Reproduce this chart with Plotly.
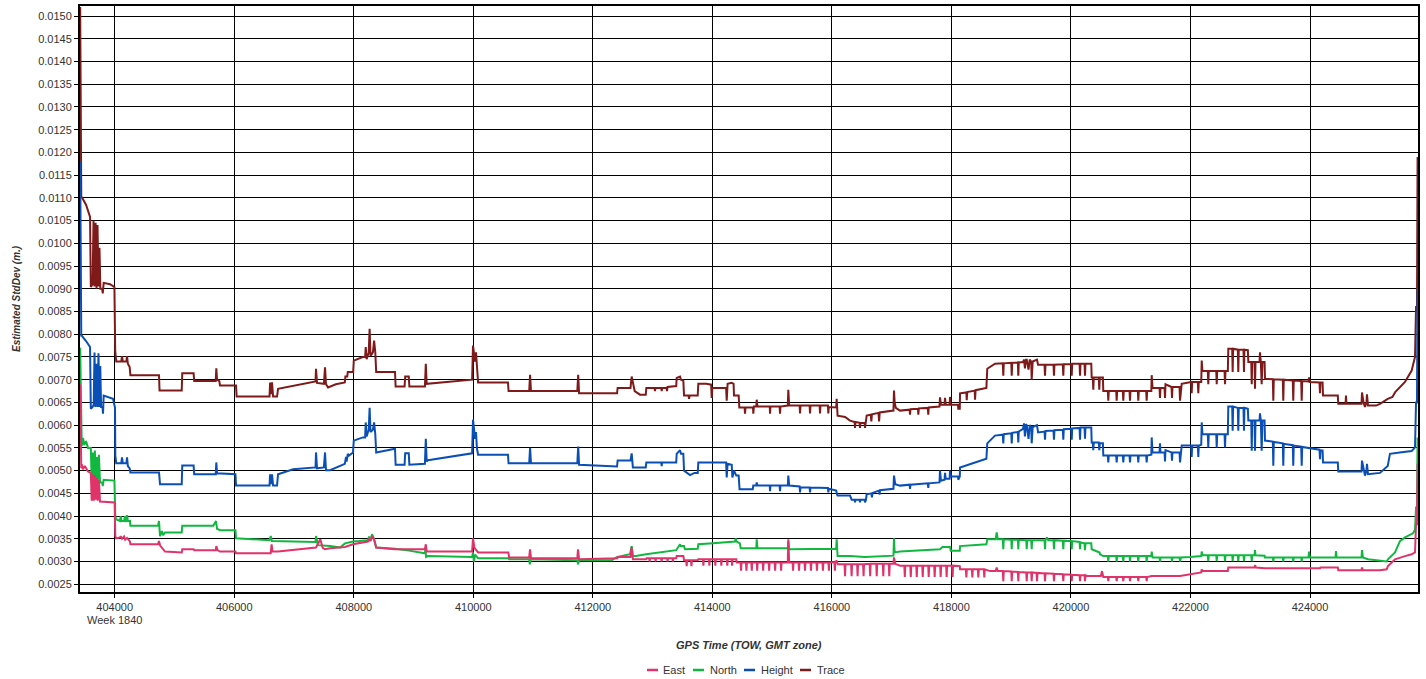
import plotly.graph_objects as go

# ---------------- data (GPS TOW seconds, estimated std dev in metres) ----------------
series_names = ["East", "North", "Height", "Trace"]
series_colors = {"East": "#e0336a", "North": "#10b840", "Height": "#0a4fb5", "Trace": "#7f1a1a"}

x_ticks = [404000, 406000, 408000, 410000, 412000, 414000, 416000, 418000, 420000, 422000, 424000]
y_ticks = [0.0025, 0.0030, 0.0035, 0.0040, 0.0045, 0.0050, 0.0055, 0.0060, 0.0065, 0.0070,
           0.0075, 0.0080, 0.0085, 0.0090, 0.0095, 0.0100, 0.0105, 0.0110, 0.0115, 0.0120,
           0.0125, 0.0130, 0.0135, 0.0140, 0.0145, 0.0150]
week_label = "Week 1840"

trace_pts = [
(403422, 0.01520), (403440, 0.01100), (403448, 0.01102), (403520, 0.01085), (403587, 0.01058),
(403600, 0.00904), (403630, 0.00910), (403645, 0.01050), (403660, 0.00905), (403680, 0.01045),
(403695, 0.00900), (403712, 0.01040), (403728, 0.00905), (403745, 0.00990), (403760, 0.00900),
(403790, 0.00900), (403800, 0.00890), (403815, 0.00913), (403921, 0.00910), (403995, 0.00904),
(404008, 0.00764), (404025, 0.00740), (404110, 0.00740), (404122, 0.00752), (404135, 0.00740),
(404195, 0.00740), (404206, 0.00752), (404220, 0.00735), (404250, 0.00728), (404262, 0.00710),
(404741, 0.00710), (404750, 0.00676), (405121, 0.00676), (405130, 0.00714), (405320, 0.00714),
(405330, 0.00697), (405690, 0.00697), (405700, 0.00725), (405712, 0.00700), (405750, 0.00697),
(405762, 0.00687), (406030, 0.00687), (406040, 0.00663), (406590, 0.00663), (406600, 0.00694),
(406615, 0.00668), (406632, 0.00694), (406650, 0.00663), (406716, 0.00663), (406733, 0.00680),
(407360, 0.00696), (407368, 0.00724), (407385, 0.00693), (407500, 0.00691), (407519, 0.00727),
(407535, 0.00690), (407570, 0.00683), (407700, 0.00690), (407850, 0.00694), (407860, 0.00707),
(407890, 0.00707), (407900, 0.00717), (407990, 0.00717), (408000, 0.00742), (408150, 0.00750),
(408190, 0.00750), (408200, 0.00772), (408215, 0.00745), (408250, 0.00760), (408265, 0.00812),
(408280, 0.00752), (408320, 0.00760), (408340, 0.00786), (408360, 0.00760), (408375, 0.00717),
(408690, 0.00717), (408700, 0.00685), (408850, 0.00685), (408860, 0.00707), (408920, 0.00707),
(408930, 0.00685), (409190, 0.00685), (409205, 0.00735), (409220, 0.00691), (409980, 0.00700),
(409995, 0.00775), (410030, 0.00740), (410045, 0.00760), (410060, 0.00720), (410080, 0.00694),
(410580, 0.00694), (410590, 0.00675), (410935, 0.00675), (410950, 0.00711), (410965, 0.00675),
(411740, 0.00675), (411755, 0.00711), (411770, 0.00670), (412405, 0.00670), (412415, 0.00682),
(412630, 0.00682), (412650, 0.00707), (412700, 0.00675), (412789, 0.00667), (412885, 0.00667),
(412895, 0.00682), (413030, 0.00682), (413040, 0.00675), (413050, 0.00682), (413145, 0.00682),
(413152, 0.00675), (413160, 0.00682), (413235, 0.00682), (413241, 0.00675), (413250, 0.00684),
(413395, 0.00686), (413403, 0.00704), (413459, 0.00707), (413475, 0.00700), (413514, 0.00698),
(413526, 0.00665), (413600, 0.00665), (413610, 0.00658), (413620, 0.00665), (413755, 0.00665),
(413765, 0.00691), (413900, 0.00691), (413980, 0.00689), (413989, 0.00660), (414000, 0.00682),
(414230, 0.00682), (414240, 0.00654), (414255, 0.00691), (414324, 0.00693), (414355, 0.00691),
(414362, 0.00665), (414440, 0.00665), (414451, 0.00639), (414540, 0.00639), (414546, 0.00625),
(414555, 0.00639), (414680, 0.00639), (414685, 0.00625), (414695, 0.00641), (414735, 0.00641),
(414742, 0.00656), (414755, 0.00641), (414960, 0.00641), (414965, 0.00625), (414972, 0.00641),
(415125, 0.00641), (415132, 0.00625), (415140, 0.00641), (415262, 0.00643), (415271, 0.00678),
(415285, 0.00643), (415460, 0.00643), (415467, 0.00626), (415475, 0.00643), (415627, 0.00643),
(415634, 0.00626), (415642, 0.00643), (415795, 0.00643), (415801, 0.00626), (415809, 0.00643),
(415934, 0.00643), (415940, 0.00626), (415948, 0.00640), (416072, 0.00639), (416080, 0.00658),
(416095, 0.00621), (416220, 0.00618), (416303, 0.00610), (416380, 0.00607), (416387, 0.00594),
(416395, 0.00607), (416463, 0.00605), (416470, 0.00594), (416478, 0.00605), (416547, 0.00605),
(416554, 0.00594), (416570, 0.00605), (416582, 0.00621), (416650, 0.00623), (416660, 0.00608),
(416670, 0.00624), (416780, 0.00627), (416790, 0.00608), (416800, 0.00628), (417030, 0.00632),
(417039, 0.00676), (417050, 0.00650), (417070, 0.00638), (417140, 0.00632), (417300, 0.00634),
(417307, 0.00623), (417315, 0.00635), (417440, 0.00636), (417446, 0.00623), (417455, 0.00637),
(417605, 0.00638), (417613, 0.00623), (417620, 0.00639), (417800, 0.00641), (417809, 0.00661),
(417825, 0.00645), (417885, 0.00645), (417893, 0.00660), (417905, 0.00645), (417970, 0.00645),
(417976, 0.00662), (417990, 0.00645), (418110, 0.00645), (418115, 0.00636), (418140, 0.00636),
(418144, 0.00670), (418250, 0.00672), (418256, 0.00655), (418265, 0.00673), (418390, 0.00676),
(418395, 0.00656), (418405, 0.00677), (418585, 0.00682), (418600, 0.00724), (418646, 0.00728),
(418729, 0.00735), (418860, 0.00736), (418868, 0.00709), (418876, 0.00736), (419002, 0.00737),
(419009, 0.00709), (419017, 0.00737), (419112, 0.00738), (419119, 0.00709), (419127, 0.00738),
(419198, 0.00739), (419215, 0.00744), (419230, 0.00725), (419245, 0.00744), (419260, 0.00744),
(419290, 0.00722), (419310, 0.00744), (419335, 0.00740), (419343, 0.00700), (419360, 0.00740),
(419432, 0.00744), (419450, 0.00733), (419558, 0.00733), (419566, 0.00709), (419574, 0.00733),
(419708, 0.00733), (419716, 0.00709), (419724, 0.00733), (419864, 0.00734), (419872, 0.00709),
(419880, 0.00734), (420005, 0.00734), (420013, 0.00709), (420021, 0.00735), (420144, 0.00735),
(420152, 0.00709), (420160, 0.00735), (420227, 0.00735), (420235, 0.00709), (420243, 0.00735),
(420340, 0.00735), (420347, 0.00705), (420366, 0.00705), (420374, 0.00678), (420382, 0.00705),
(420466, 0.00705), (420474, 0.00678), (420482, 0.00705), (420535, 0.00705), (420541, 0.00675),
(420617, 0.00675), (420625, 0.00654), (420633, 0.00675), (420757, 0.00675), (420765, 0.00654),
(420773, 0.00675), (420868, 0.00675), (420876, 0.00654), (420884, 0.00675), (420980, 0.00675),
(420988, 0.00654), (420996, 0.00675), (421119, 0.00675), (421127, 0.00654), (421135, 0.00675),
(421259, 0.00675), (421267, 0.00654), (421275, 0.00675), (421345, 0.00675), (421351, 0.00710),
(421365, 0.00682), (421482, 0.00682), (421490, 0.00660), (421498, 0.00682), (421566, 0.00682),
(421574, 0.00660), (421582, 0.00690), (421683, 0.00684), (421691, 0.00660), (421699, 0.00684),
(421817, 0.00684), (421825, 0.00654), (421840, 0.00684), (421853, 0.00691), (422012, 0.00695),
(422020, 0.00670), (422028, 0.00695), (422123, 0.00695), (422131, 0.00670), (422139, 0.00695),
(422180, 0.00695), (422188, 0.00742), (422200, 0.00719), (422290, 0.00719), (422298, 0.00690),
(422306, 0.00719), (422431, 0.00719), (422439, 0.00690), (422447, 0.00719), (422570, 0.00719),
(422578, 0.00690), (422586, 0.00719), (422625, 0.00719), (422633, 0.00768), (422698, 0.00768),
(422706, 0.00717), (422714, 0.00768), (422792, 0.00766), (422800, 0.00717), (422808, 0.00766),
(422887, 0.00766), (422895, 0.00717), (422903, 0.00766), (422960, 0.00765), (422968, 0.00739),
(423017, 0.00739), (423025, 0.00690), (423033, 0.00739), (423072, 0.00739), (423080, 0.00680),
(423088, 0.00739), (423155, 0.00739), (423163, 0.00760), (423177, 0.00739), (423191, 0.00690),
(423205, 0.00739), (423240, 0.00739), (423247, 0.00702), (423378, 0.00701), (423386, 0.00654),
(423394, 0.00701), (423545, 0.00700), (423553, 0.00654), (423561, 0.00700), (423712, 0.00698),
(423720, 0.00654), (423728, 0.00698), (423853, 0.00697), (423861, 0.00654), (423869, 0.00697),
(423975, 0.00696), (423983, 0.00705), (423995, 0.00695), (424159, 0.00694), (424167, 0.00670),
(424175, 0.00694), (424210, 0.00694), (424218, 0.00665), (424465, 0.00665), (424473, 0.00647),
(424595, 0.00647), (424602, 0.00665), (424610, 0.00647), (424862, 0.00647), (424870, 0.00672),
(424895, 0.00650), (424920, 0.00640), (424945, 0.00650), (424953, 0.00668), (424970, 0.00643),
(425104, 0.00643), (425171, 0.00647), (425300, 0.00658), (425338, 0.00660), (425380, 0.00662),
(425422, 0.00672), (425505, 0.00684), (425589, 0.00695), (425701, 0.00720), (425757, 0.00750),
(425774, 0.00860), (425790, 0.00860), (425800, 0.01190), (425804, 0.01080),
]

height_pts = [
(403422, 0.01180), (403440, 0.00795), (403448, 0.00797), (403520, 0.00785), (403587, 0.00772),
(403600, 0.00636), (403630, 0.00640), (403648, 0.00645), (403662, 0.00760), (403676, 0.00640),
(403696, 0.00735), (403712, 0.00640), (403728, 0.00758), (403743, 0.00640), (403758, 0.00730),
(403772, 0.00640), (403795, 0.00640), (403804, 0.00625), (403815, 0.00665), (403971, 0.00658),
(403995, 0.00640), (404005, 0.00638), (404010, 0.00533), (404025, 0.00516), (404110, 0.00516),
(404122, 0.00529), (404135, 0.00516), (404195, 0.00516), (404206, 0.00529), (404220, 0.00510),
(404250, 0.00505), (404262, 0.00496), (404741, 0.00496), (404758, 0.00470), (405121, 0.00470),
(405130, 0.00511), (405320, 0.00511), (405330, 0.00492), (405690, 0.00492), (405700, 0.00518),
(405712, 0.00494), (406020, 0.00492), (406030, 0.00467), (406590, 0.00467), (406600, 0.00492),
(406615, 0.00470), (406632, 0.00492), (406650, 0.00467), (406716, 0.00467), (406733, 0.00492),
(406984, 0.00503), (407360, 0.00507), (407368, 0.00540), (407385, 0.00505), (407500, 0.00507),
(407519, 0.00540), (407535, 0.00501), (407603, 0.00501), (407850, 0.00515), (407870, 0.00530),
(407880, 0.00520), (407900, 0.00537), (407920, 0.00533), (407987, 0.00540), (408000, 0.00566),
(408150, 0.00573), (408190, 0.00573), (408200, 0.00606), (408215, 0.00575), (408250, 0.00590),
(408265, 0.00638), (408280, 0.00585), (408320, 0.00590), (408340, 0.00606), (408360, 0.00580),
(408375, 0.00540), (408690, 0.00548), (408700, 0.00513), (408850, 0.00513), (408860, 0.00538),
(408920, 0.00538), (408930, 0.00513), (409190, 0.00515), (409205, 0.00570), (409220, 0.00520),
(409242, 0.00523), (409980, 0.00538), (409995, 0.00612), (410030, 0.00570), (410045, 0.00585),
(410060, 0.00550), (410080, 0.00535), (410580, 0.00535), (410590, 0.00516), (410935, 0.00516),
(410950, 0.00550), (410965, 0.00516), (411740, 0.00516), (411755, 0.00553), (411770, 0.00513),
(412405, 0.00509), (412415, 0.00522), (412630, 0.00522), (412650, 0.00538), (412670, 0.00507),
(412885, 0.00507), (412895, 0.00518), (413145, 0.00518), (413152, 0.00510), (413160, 0.00518),
(413395, 0.00518), (413403, 0.00537), (413459, 0.00545), (413475, 0.00537), (413514, 0.00537),
(413526, 0.00500), (413626, 0.00490), (413700, 0.00495), (413755, 0.00495), (413765, 0.00518),
(414230, 0.00518), (414240, 0.00485), (414255, 0.00515), (414324, 0.00513), (414335, 0.00485),
(414362, 0.00500), (414400, 0.00489), (414440, 0.00489), (414455, 0.00459), (414675, 0.00459),
(414685, 0.00467), (414735, 0.00467), (414742, 0.00474), (414755, 0.00467), (414960, 0.00467),
(414965, 0.00455), (414972, 0.00467), (415125, 0.00467), (415132, 0.00455), (415140, 0.00467),
(415262, 0.00467), (415271, 0.00489), (415285, 0.00467), (415460, 0.00465), (415467, 0.00452),
(415475, 0.00463), (415627, 0.00463), (415634, 0.00452), (415642, 0.00463), (415934, 0.00462),
(415940, 0.00452), (415948, 0.00460), (416072, 0.00456), (416085, 0.00448), (416095, 0.00445),
(416303, 0.00445), (416331, 0.00436), (416380, 0.00436), (416387, 0.00430), (416395, 0.00436),
(416463, 0.00436), (416470, 0.00430), (416478, 0.00436), (416547, 0.00436), (416554, 0.00430),
(416570, 0.00436), (416582, 0.00448), (416660, 0.00450), (416670, 0.00441), (416680, 0.00451),
(416790, 0.00456), (416798, 0.00447), (416805, 0.00457), (417030, 0.00460), (417039, 0.00489),
(417060, 0.00470), (417140, 0.00467), (417300, 0.00469), (417307, 0.00460), (417315, 0.00469),
(417605, 0.00472), (417613, 0.00462), (417620, 0.00472), (417800, 0.00474), (417809, 0.00500),
(417825, 0.00478), (417885, 0.00480), (417893, 0.00495), (417905, 0.00482), (417970, 0.00482),
(417976, 0.00500), (417990, 0.00487), (418110, 0.00487), (418115, 0.00480), (418140, 0.00487),
(418144, 0.00507), (418585, 0.00526), (418600, 0.00560), (418646, 0.00566), (418729, 0.00577),
(418860, 0.00579), (418868, 0.00560), (418876, 0.00580), (419002, 0.00582), (419009, 0.00560),
(419017, 0.00583), (419112, 0.00585), (419119, 0.00562), (419127, 0.00586), (419198, 0.00592),
(419215, 0.00604), (419230, 0.00575), (419245, 0.00602), (419260, 0.00600), (419290, 0.00570),
(419310, 0.00600), (419335, 0.00596), (419343, 0.00560), (419360, 0.00596), (419432, 0.00600),
(419450, 0.00584), (419558, 0.00586), (419566, 0.00568), (419574, 0.00587), (419708, 0.00588),
(419716, 0.00568), (419724, 0.00589), (419864, 0.00590), (419872, 0.00568), (419880, 0.00591),
(420005, 0.00592), (420013, 0.00568), (420021, 0.00593), (420144, 0.00594), (420152, 0.00568),
(420160, 0.00595), (420227, 0.00595), (420235, 0.00570), (420243, 0.00595), (420340, 0.00595),
(420347, 0.00562), (420366, 0.00562), (420374, 0.00545), (420382, 0.00562), (420466, 0.00562),
(420474, 0.00545), (420482, 0.00560), (420535, 0.00560), (420541, 0.00533), (420617, 0.00533),
(420625, 0.00518), (420633, 0.00533), (420757, 0.00533), (420765, 0.00518), (420773, 0.00533),
(420868, 0.00533), (420876, 0.00518), (420884, 0.00533), (420980, 0.00533), (420988, 0.00518),
(420996, 0.00533), (421119, 0.00533), (421127, 0.00518), (421135, 0.00533), (421259, 0.00533),
(421267, 0.00518), (421275, 0.00533), (421345, 0.00535), (421351, 0.00573), (421365, 0.00540),
(421482, 0.00540), (421490, 0.00560), (421498, 0.00540), (421566, 0.00540), (421574, 0.00520),
(421582, 0.00545), (421683, 0.00540), (421691, 0.00522), (421699, 0.00540), (421817, 0.00540),
(421825, 0.00518), (421840, 0.00545), (421853, 0.00555), (422012, 0.00555), (422020, 0.00530),
(422028, 0.00555), (422123, 0.00555), (422131, 0.00530), (422139, 0.00555), (422180, 0.00557),
(422188, 0.00606), (422200, 0.00580), (422290, 0.00580), (422298, 0.00551), (422306, 0.00580),
(422431, 0.00580), (422439, 0.00551), (422447, 0.00580), (422570, 0.00580), (422578, 0.00551),
(422586, 0.00580), (422625, 0.00580), (422633, 0.00641), (422698, 0.00641), (422706, 0.00588),
(422714, 0.00641), (422792, 0.00638), (422800, 0.00588), (422808, 0.00638), (422887, 0.00638),
(422895, 0.00588), (422903, 0.00638), (422960, 0.00636), (422968, 0.00610), (423017, 0.00610),
(423025, 0.00544), (423033, 0.00610), (423072, 0.00610), (423080, 0.00544), (423088, 0.00610),
(423155, 0.00610), (423163, 0.00626), (423177, 0.00610), (423191, 0.00544), (423205, 0.00610),
(423240, 0.00610), (423247, 0.00566), (423378, 0.00564), (423386, 0.00511), (423394, 0.00563),
(423545, 0.00560), (423553, 0.00511), (423561, 0.00559), (423712, 0.00556), (423720, 0.00511),
(423728, 0.00555), (423853, 0.00553), (423861, 0.00511), (423869, 0.00552), (424159, 0.00546),
(424167, 0.00525), (424175, 0.00544), (424210, 0.00544), (424218, 0.00518), (424465, 0.00518),
(424473, 0.00498), (424862, 0.00498), (424870, 0.00522), (424895, 0.00500), (424920, 0.00489),
(424945, 0.00500), (424953, 0.00515), (424970, 0.00492), (425171, 0.00495), (425300, 0.00510),
(425338, 0.00537), (425500, 0.00540), (425701, 0.00543), (425757, 0.00551), (425774, 0.00650),
(425790, 0.00650), (425800, 0.00900), (425804, 0.00834),
]

north_pts = [
(403422, 0.00770), (403440, 0.00560), (403448, 0.00554), (403470, 0.00572), (403490, 0.00556),
(403520, 0.00565), (403553, 0.00550), (403600, 0.00550), (403615, 0.00478), (403635, 0.00540),
(403650, 0.00478), (403668, 0.00544), (403684, 0.00480), (403700, 0.00530), (403716, 0.00478),
(403735, 0.00535), (403754, 0.00474), (403790, 0.00474), (403800, 0.00466), (403815, 0.00480),
(403995, 0.00478), (404010, 0.00400), (404022, 0.00393), (404089, 0.00389), (404100, 0.00400),
(404115, 0.00389), (404156, 0.00389), (404170, 0.00400), (404185, 0.00387), (404206, 0.00402),
(404220, 0.00389), (404256, 0.00389), (404262, 0.00379), (404725, 0.00379), (404741, 0.00389),
(404758, 0.00356), (404791, 0.00367), (404808, 0.00358), (404842, 0.00364), (405121, 0.00364),
(405130, 0.00379), (405650, 0.00379), (405695, 0.00389), (405712, 0.00372), (405762, 0.00369),
(406020, 0.00369), (406030, 0.00351), (406590, 0.00347), (406610, 0.00356), (406630, 0.00345),
(407360, 0.00343), (407368, 0.00356), (407400, 0.00336), (407603, 0.00334), (407770, 0.00331),
(407853, 0.00340), (407987, 0.00344), (408088, 0.00345), (408238, 0.00347), (408255, 0.00355),
(408280, 0.00347), (408305, 0.00360), (408340, 0.00350), (408375, 0.00331), (408690, 0.00328),
(408924, 0.00324), (409190, 0.00318), (409200, 0.00330), (409210, 0.00310), (409242, 0.00312),
(409980, 0.00310), (409995, 0.00320), (410010, 0.00300), (410030, 0.00315), (410080, 0.00307),
(410586, 0.00307), (410600, 0.00305), (410935, 0.00305), (410945, 0.00294), (410960, 0.00305),
(411740, 0.00303), (411752, 0.00294), (411770, 0.00303), (412316, 0.00303), (412410, 0.00310),
(412622, 0.00316), (412650, 0.00334), (412670, 0.00312), (412722, 0.00312), (412890, 0.00316),
(413395, 0.00325), (413459, 0.00338), (413470, 0.00334), (413526, 0.00334), (413540, 0.00327),
(413755, 0.00328), (413765, 0.00338), (414011, 0.00340), (414379, 0.00344), (414390, 0.00351),
(414407, 0.00344), (414460, 0.00340), (414474, 0.00329), (414735, 0.00329), (414742, 0.00349),
(414755, 0.00329), (415262, 0.00329), (415271, 0.00345), (415285, 0.00327), (416072, 0.00328),
(416080, 0.00349), (416095, 0.00312), (416303, 0.00312), (416554, 0.00310), (417030, 0.00313),
(417039, 0.00351), (417050, 0.00320), (417140, 0.00322), (417809, 0.00327), (417850, 0.00332),
(417976, 0.00332), (417990, 0.00324), (418140, 0.00324), (418144, 0.00334), (418585, 0.00338),
(418600, 0.00349), (418740, 0.00349), (418758, 0.00364), (418775, 0.00349),
(418860, 0.00349), (418868, 0.00327), (418876, 0.00349), (419002, 0.00348), (419009, 0.00327),
(419017, 0.00348), (419112, 0.00348), (419119, 0.00327), (419127, 0.00348), (419252, 0.00347),
(419260, 0.00327), (419268, 0.00347), (419335, 0.00347), (419343, 0.00327), (419351, 0.00347),
(419558, 0.00347), (419566, 0.00327), (419574, 0.00347), (419599, 0.00353), (419620, 0.00347),
(419708, 0.00347), (419716, 0.00327), (419724, 0.00347), (419864, 0.00346), (419872, 0.00327),
(419880, 0.00346), (420005, 0.00345), (420013, 0.00327), (420021, 0.00345), (420144, 0.00343),
(420152, 0.00327), (420160, 0.00342), (420227, 0.00340), (420235, 0.00325), (420243, 0.00340),
(420340, 0.00340), (420347, 0.00327), (420480, 0.00320), (420486, 0.00316), (420541, 0.00312),
(420617, 0.00312), (420625, 0.00300), (420633, 0.00312), (420757, 0.00312), (420765, 0.00300),
(420773, 0.00312), (420868, 0.00312), (420876, 0.00300), (420884, 0.00312), (420980, 0.00312),
(420988, 0.00300), (420996, 0.00312), (421119, 0.00312), (421127, 0.00300), (421135, 0.00312),
(421259, 0.00312), (421267, 0.00300), (421275, 0.00312), (421345, 0.00312), (421351, 0.00322),
(421365, 0.00309), (421482, 0.00309), (421490, 0.00300), (421498, 0.00309), (421683, 0.00309),
(421691, 0.00300), (421699, 0.00309), (421817, 0.00309), (421825, 0.00300), (421840, 0.00309),
(421992, 0.00310), (422180, 0.00312), (422188, 0.00322), (422200, 0.00314), (422290, 0.00314),
(422298, 0.00301), (422306, 0.00314), (422431, 0.00314), (422439, 0.00301), (422447, 0.00314),
(422570, 0.00314), (422578, 0.00301), (422586, 0.00314), (422698, 0.00314), (422706, 0.00301),
(422714, 0.00314), (422792, 0.00314), (422800, 0.00301), (422808, 0.00314), (422887, 0.00314),
(422895, 0.00301), (422903, 0.00314), (423017, 0.00314), (423025, 0.00301), (423033, 0.00314),
(423072, 0.00314), (423080, 0.00325), (423088, 0.00314), (423240, 0.00313), (423247, 0.00309),
(423378, 0.00309), (423386, 0.00300), (423394, 0.00309), (423545, 0.00309), (423553, 0.00300),
(423561, 0.00309), (423712, 0.00309), (423720, 0.00300), (423728, 0.00309), (423853, 0.00309),
(423861, 0.00300), (423869, 0.00309), (423975, 0.00309), (423983, 0.00322), (423995, 0.00309),
(424427, 0.00309), (424435, 0.00323), (424445, 0.00309), (424862, 0.00309), (424870, 0.00325),
(424885, 0.00309), (424970, 0.00305), (425283, 0.00300), (425305, 0.00305), (425422, 0.00320),
(425505, 0.00345), (425589, 0.00353), (425723, 0.00362), (425757, 0.00370), (425774, 0.00419),
(425790, 0.00419), (425800, 0.00573), (425804, 0.00515),
]

east_pts = [
(403422, 0.00690), (403440, 0.00505), (403448, 0.00514), (403470, 0.00503), (403500, 0.00510),
(403553, 0.00498), (403600, 0.00495), (403615, 0.00434), (403635, 0.00492), (403650, 0.00434),
(403668, 0.00490), (403684, 0.00436), (403700, 0.00485), (403716, 0.00434), (403735, 0.00480),
(403754, 0.00432), (403988, 0.00430), (403998, 0.00430), (404010, 0.00356), (404025, 0.00351),
(404089, 0.00353), (404100, 0.00356), (404122, 0.00350), (404156, 0.00355), (404175, 0.00348),
(404206, 0.00352), (404256, 0.00344), (404262, 0.00338), (404725, 0.00338), (404741, 0.00345),
(404760, 0.00335), (404791, 0.00330), (404842, 0.00322), (405121, 0.00320), (405130, 0.00327),
(405320, 0.00327), (405330, 0.00325), (405690, 0.00325), (405700, 0.00334), (405720, 0.00325),
(405762, 0.00322), (406020, 0.00322), (406030, 0.00318), (406610, 0.00318), (406625, 0.00338),
(406640, 0.00322), (406733, 0.00322), (407368, 0.00331), (407440, 0.00349), (407480, 0.00330),
(407519, 0.00327), (407603, 0.00329), (407853, 0.00332), (407987, 0.00338), (408238, 0.00344),
(408255, 0.00350), (408280, 0.00345), (408305, 0.00356), (408340, 0.00348), (408375, 0.00331),
(408690, 0.00327), (409190, 0.00327), (409205, 0.00338), (409220, 0.00322), (409980, 0.00322),
(409995, 0.00351), (410020, 0.00330), (410080, 0.00320), (410586, 0.00320), (410600, 0.00309),
(410935, 0.00309), (410949, 0.00327), (410965, 0.00307), (411740, 0.00307), (411752, 0.00327),
(411770, 0.00305), (412410, 0.00307), (412415, 0.00310), (412630, 0.00310), (412650, 0.00332),
(412670, 0.00305), (412890, 0.00305), (412900, 0.00307),
(412942, 0.00307), (412950, 0.00300), (412958, 0.00307), (413042, 0.00307), (413050, 0.00300),
(413058, 0.00307), (413142, 0.00307), (413150, 0.00300), (413158, 0.00307), (413242, 0.00307),
(413250, 0.00300), (413258, 0.00307), (413332, 0.00307), (413340, 0.00300), (413348, 0.00307),
(413395, 0.00307), (413403, 0.00312), (413514, 0.00312), (413526, 0.00303), (413562, 0.00303),
(413570, 0.00290), (413578, 0.00303), (413642, 0.00303), (413650, 0.00290), (413658, 0.00303),
(413755, 0.00303), (413765, 0.00305), (413842, 0.00305), (413850, 0.00291), (413858, 0.00305),
(413942, 0.00305), (413950, 0.00291), (413958, 0.00305), (414042, 0.00305), (414050, 0.00291),
(414058, 0.00305), (414142, 0.00305), (414150, 0.00291), (414158, 0.00305), (414242, 0.00305),
(414250, 0.00291), (414258, 0.00305), (414322, 0.00305), (414330, 0.00291), (414338, 0.00305),
(414400, 0.00305), (414407, 0.00298), (414472, 0.00298), (414480, 0.00280), (414488, 0.00298),
(414562, 0.00298), (414570, 0.00280), (414578, 0.00298), (414652, 0.00298), (414660, 0.00280),
(414668, 0.00298), (414742, 0.00298), (414750, 0.00280), (414758, 0.00298), (414842, 0.00298),
(414850, 0.00280), (414858, 0.00298), (414942, 0.00298), (414950, 0.00280), (414958, 0.00298),
(415042, 0.00298), (415050, 0.00280), (415058, 0.00298), (415142, 0.00298), (415150, 0.00280),
(415158, 0.00298), (415262, 0.00298), (415271, 0.00349), (415285, 0.00298), (415342, 0.00298),
(415350, 0.00280), (415358, 0.00298), (415442, 0.00298), (415450, 0.00280), (415458, 0.00298),
(415542, 0.00298), (415550, 0.00280), (415558, 0.00298), (415642, 0.00298), (415650, 0.00280),
(415658, 0.00298), (415742, 0.00298), (415750, 0.00280), (415758, 0.00298), (415842, 0.00298),
(415850, 0.00280), (415858, 0.00298), (415942, 0.00298), (415950, 0.00280), (415958, 0.00298),
(416042, 0.00299), (416050, 0.00280), (416058, 0.00300), (416080, 0.00301), (416100, 0.00294),
(416212, 0.00294), (416220, 0.00268), (416228, 0.00294), (416322, 0.00294), (416330, 0.00268),
(416338, 0.00294), (416422, 0.00294), (416430, 0.00268), (416438, 0.00294), (416522, 0.00294),
(416530, 0.00268), (416538, 0.00294), (416632, 0.00295), (416640, 0.00268), (416648, 0.00295),
(416742, 0.00295), (416750, 0.00268), (416758, 0.00295), (416852, 0.00295), (416860, 0.00268),
(416868, 0.00295), (416952, 0.00295), (416960, 0.00268), (416968, 0.00295), (417030, 0.00295),
(417039, 0.00309), (417060, 0.00295), (417140, 0.00291),
(417212, 0.00291), (417220, 0.00266), (417228, 0.00291), (417312, 0.00291), (417320, 0.00266),
(417328, 0.00291), (417412, 0.00291), (417420, 0.00266), (417428, 0.00291), (417512, 0.00291),
(417520, 0.00266), (417528, 0.00291), (417612, 0.00291), (417620, 0.00266), (417628, 0.00291),
(417712, 0.00291), (417720, 0.00266), (417728, 0.00291), (417812, 0.00291), (417820, 0.00266),
(417828, 0.00291), (417912, 0.00291), (417920, 0.00266), (417928, 0.00291), (418012, 0.00291),
(418020, 0.00266), (418028, 0.00291), (418140, 0.00290), (418144, 0.00283), (418242, 0.00283),
(418250, 0.00265), (418258, 0.00283), (418342, 0.00283), (418350, 0.00265), (418358, 0.00283),
(418442, 0.00283), (418450, 0.00265), (418458, 0.00283), (418542, 0.00283), (418550, 0.00265),
(418558, 0.00283), (418646, 0.00279), (418740, 0.00279), (418758, 0.00287), (418775, 0.00279),
(418860, 0.00279), (418868, 0.00257), (418876, 0.00279), (419002, 0.00278), (419009, 0.00257),
(419017, 0.00278), (419112, 0.00277), (419119, 0.00257), (419127, 0.00277), (419252, 0.00276),
(419260, 0.00257), (419268, 0.00276), (419335, 0.00276), (419343, 0.00257), (419351, 0.00276),
(419424, 0.00275), (419432, 0.00257), (419440, 0.00275), (419558, 0.00274), (419566, 0.00257),
(419574, 0.00274), (419708, 0.00273), (419716, 0.00257), (419724, 0.00273), (419864, 0.00272),
(419872, 0.00257), (419880, 0.00272), (420005, 0.00271), (420013, 0.00257), (420021, 0.00271),
(420144, 0.00270), (420152, 0.00257), (420160, 0.00270), (420227, 0.00270), (420235, 0.00257),
(420243, 0.00270), (420269, 0.00268), (420500, 0.00268), (420520, 0.00279), (420541, 0.00266),
(420617, 0.00266), (420625, 0.00257), (420633, 0.00266), (420757, 0.00266), (420765, 0.00257),
(420773, 0.00266), (420868, 0.00266), (420876, 0.00257), (420884, 0.00266), (420980, 0.00266),
(420988, 0.00257), (420996, 0.00266), (421119, 0.00266), (421127, 0.00257), (421135, 0.00266),
(421259, 0.00266), (421267, 0.00257), (421275, 0.00266), (421351, 0.00268), (421825, 0.00268),
(421992, 0.00272), (422180, 0.00276), (422188, 0.00283), (422200, 0.00279), (422625, 0.00279),
(422633, 0.00287), (423072, 0.00287), (423080, 0.00292), (423095, 0.00287), (423247, 0.00285),
(424167, 0.00285), (424175, 0.00287), (424465, 0.00287), (424473, 0.00281), (424862, 0.00281),
(424870, 0.00287), (424885, 0.00281), (425171, 0.00281), (425283, 0.00283), (425305, 0.00290),
(425422, 0.00305), (425505, 0.00309), (425589, 0.00312), (425701, 0.00316), (425757, 0.00320),
(425774, 0.00382), (425790, 0.00382), (425800, 0.00515), (425804, 0.00460),
]

series_points = {"East": east_pts, "North": north_pts, "Height": height_pts, "Trace": trace_pts}

# ---------------- figure ----------------
fig = go.Figure()
# draw order: Trace first, East last (on top)
for name in ["Trace", "Height", "North", "East"]:
    pts = series_points[name]
    fig.add_trace(go.Scatter(
        x=[p[0] for p in pts], y=[p[1] for p in pts], mode="lines", name=name,
        line=dict(color=series_colors[name], width=2), showlegend=False,
    ))

FONT = "Liberation Sans, Arial, sans-serif"
PLOT_L, PLOT_R, PLOT_T, PLOT_B = 80, 1418, 6, 592
W, H = 1426, 679

def px_to_paper_x(px):
    return (px - PLOT_L) / (PLOT_R - PLOT_L)

def px_to_paper_y(py):
    return (PLOT_B - py) / (PLOT_B - PLOT_T)

fig.update_layout(
    width=W, height=H,
    margin=dict(l=PLOT_L, r=W - PLOT_R, t=PLOT_T, b=H - PLOT_B, autoexpand=False),
    plot_bgcolor="white", paper_bgcolor="white",
    font=dict(family=FONT, size=11, color="#333333"),
    showlegend=False,
)
fig.update_xaxes(
    range=[403419, 425807], tickmode="array", tickvals=x_ticks,
    ticktext=[str(v) for v in x_ticks], automargin=False,
    showgrid=True, gridcolor="#000000", gridwidth=1,
    showline=True, linecolor="#000000", linewidth=2, mirror=True, layer="below traces",
    ticks="outside", ticklen=4, tickcolor="#000000", zeroline=False,
    tickfont=dict(size=11, color="#333333"),
)
fig.update_yaxes(
    range=[0.00233, 0.01522], tickmode="array", tickvals=y_ticks,
    ticktext=["%.4f" % v for v in y_ticks], automargin=False,
    showgrid=True, gridcolor="#000000", gridwidth=1,
    showline=True, linecolor="#000000", linewidth=2, mirror=True, layer="below traces",
    ticks="outside", ticklen=4, tickcolor="#000000", zeroline=False,
    tickfont=dict(size=11, color="#333333"),
)

fig.add_annotation(text="<b><i>GPS Time (TOW, GMT zone)</i></b>", xref="paper", yref="paper",
                   x=0.5, y=px_to_paper_y(645), xanchor="center", yanchor="middle", showarrow=False,
                   font=dict(size=11, color="#333333", family=FONT))
fig.add_annotation(text="<b><i>Estimated StdDev (m.)</i></b>", xref="paper", yref="paper",
                   x=px_to_paper_x(16), y=0.5, xanchor="center", yanchor="middle", textangle=-90,
                   showarrow=False, font=dict(size=10, color="#333333", family=FONT))
fig.add_annotation(text=week_label, xref="x", yref="paper", x=x_ticks[0], y=0,
                   xanchor="center", yanchor="top", yshift=-20, showarrow=False,
                   font=dict(size=11, color="#333333", family=FONT))

# legend (compact, like the original): short coloured line + label
legend_layout = {"East": (647, 661), "North": (693, 708), "Height": (744, 759), "Trace": (800, 815)}
ly = px_to_paper_y(670)
for name in series_names:
    x0, tx = legend_layout[name]
    fig.add_shape(type="line", xref="paper", yref="paper",
                  x0=px_to_paper_x(x0), x1=px_to_paper_x(x0 + 11), y0=ly, y1=ly,
                  line=dict(color=series_colors[name], width=2.5))
    fig.add_annotation(text=name, xref="paper", yref="paper", x=px_to_paper_x(tx), y=ly,
                       xanchor="left", yanchor="middle", showarrow=False,
                       font=dict(size=11, color="#333333", family=FONT))

# remove the browser's default page margin so the figure sits at the window's top-left corner
fig.write_html("out.html", config={"displayModeBar": False},
               post_script="document.body.style.margin='0px';document.body.style.overflow='hidden';")
